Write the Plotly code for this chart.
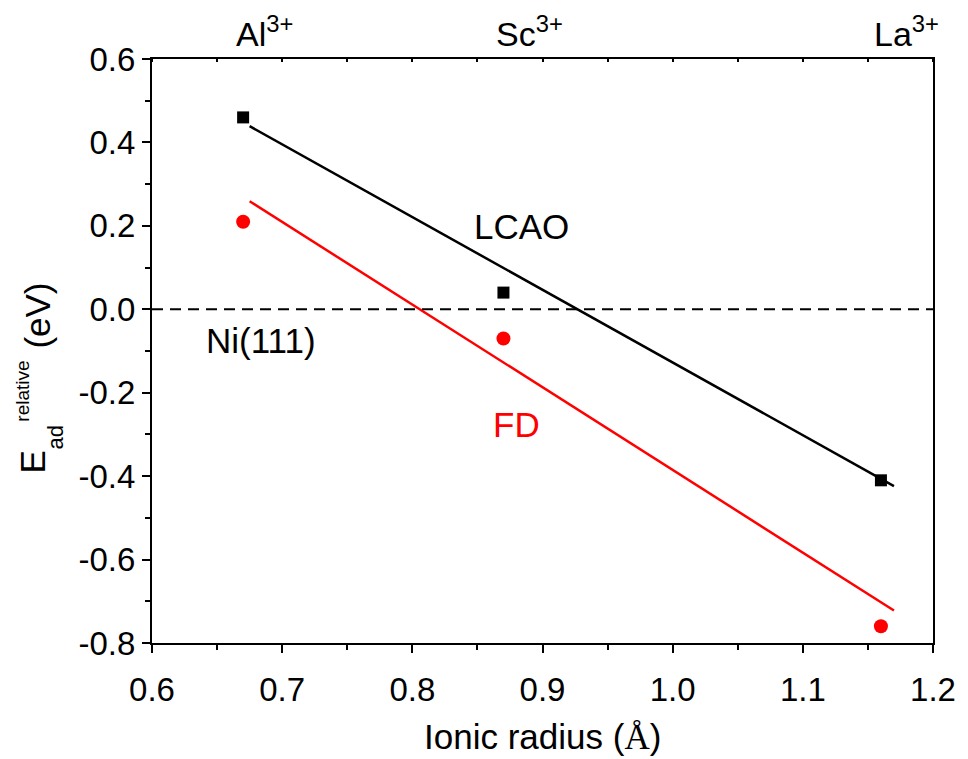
import plotly.graph_objects as go

# Data
ionic_radius = [0.67, 0.87, 1.16]
ion_labels = ["Al<sup>3+</sup>", "Sc<sup>3+</sup>", "La<sup>3+</sup>"]
lcao = [0.46, 0.04, -0.41]
fd = [0.21, -0.07, -0.76]
fit_x = [0.675, 1.17]
lcao_fit = [0.439, -0.424]
fd_fit = [0.259, -0.722]
ref_x = [0.6, 1.2]
ref_y = [0.0, 0.0]
xticks = [0.6, 0.7, 0.8, 0.9, 1.0, 1.1, 1.2]
yticks = [0.6, 0.4, 0.2, 0.0, -0.2, -0.4, -0.6, -0.8]

FONT = "Liberation Sans, Arial, sans-serif"
W, H = 968, 759
L, R, T, B = 152, 937, 59, 643

def px(x):
    return (x - L) / (R - L)

def py(y):
    return (B - y) / (B - T)

fig = go.Figure()
fig.add_trace(go.Scatter(x=ref_x, y=ref_y, mode="lines",
                         line=dict(color="black", width=2, dash="11px,7px"),
                         showlegend=False, hoverinfo="skip"))
fig.add_trace(go.Scatter(x=fit_x, y=lcao_fit, mode="lines",
                         line=dict(color="black", width=2.5), showlegend=False))
fig.add_trace(go.Scatter(x=fit_x, y=fd_fit, mode="lines",
                         line=dict(color="#ff0000", width=2.5), showlegend=False))
fig.add_trace(go.Scatter(x=ionic_radius, y=lcao, mode="markers",
                         marker=dict(symbol="square", size=12, color="black"),
                         showlegend=False))
fig.add_trace(go.Scatter(x=ionic_radius, y=fd, mode="markers",
                         marker=dict(symbol="circle", size=14, color="#ff0000"),
                         showlegend=False))
# dummy trace for top axis
fig.add_trace(go.Scatter(x=[0.6, 1.2], y=[None, None], xaxis="x2", showlegend=False,
                         hoverinfo="skip"))

fig.update_layout(
    width=W, height=H, autosize=False,
    margin=dict(l=L, r=W - R, t=T, b=H - B, pad=0),
    paper_bgcolor="white", plot_bgcolor="white",
    font=dict(family=FONT, size=33, color="black"),
    xaxis=dict(range=[0.6, 1.2], tickvals=xticks,
               ticktext=[f"{v:.1f}" for v in xticks],
               ticks="outside", ticklen=8, tickwidth=2, tickcolor="black",
               ticklabelstandoff=8,
               minor=dict(ticks="outside", dtick=0.05, tick0=0.6, ticklen=5,
                          tickwidth=2, tickcolor="black"),
               showline=True, linewidth=2, linecolor="black", mirror=True,
               showgrid=False, zeroline=False,
               tickfont=dict(size=33), fixedrange=True),
    xaxis2=dict(range=[0.6, 1.2], overlaying="x", side="top",
                tickvals=[], ticks="",
                minor=dict(ticks="inside", dtick=0.05, tick0=0.6, ticklen=3,
                           tickwidth=1.5, tickcolor="black"),
                showline=False, showgrid=False, zeroline=False, showticklabels=False),
    yaxis=dict(range=[-0.8, 0.6], tickvals=yticks,
               ticktext=[f"{v:.1f}".replace("\u2212", "-") for v in yticks],
               ticks="outside", ticklen=8, tickwidth=2, tickcolor="black",
               minor=dict(ticks="outside", dtick=0.1, tick0=0, ticklen=5,
                          tickwidth=2, tickcolor="black"),
               showline=True, linewidth=2, linecolor="black", mirror=True,
               showgrid=False, zeroline=False,
               tickfont=dict(size=33), fixedrange=True),
)

ann = []
# top ion labels
for xv, lab in zip(ionic_radius, ion_labels):
    ann.append(dict(x=xv, y=1, xref="x", yref="paper", text=lab, showarrow=False,
                    xanchor="left", yanchor="bottom", xshift=-9, yshift=4,
                    font=dict(size=34)))
# in-plot labels
ann.append(dict(x=0.884, y=0.199, xref="x", yref="y", text="LCAO", showarrow=False,
                font=dict(size=35, color="black")))
ann.append(dict(x=0.684, y=-0.074, xref="x", yref="y", text="Ni(111)", showarrow=False,
                font=dict(size=35, color="black")))
ann.append(dict(x=0.880, y=-0.275, xref="x", yref="y", text="FD", showarrow=False,
                font=dict(size=35, color="#ff0000")))
# x title
ann.append(dict(x=px(545), y=py(737), xref="paper", yref="paper",
                xanchor="center", yanchor="middle",
                text="Ionic radius (<span style='font-family:Liberation Serif'>Å</span>)",
                showarrow=False, font=dict(size=35)))
# y title pieces (rotated)
ann.append(dict(x=px(32), y=py(462), xref="paper", yref="paper", text="E",
                xanchor="center", yanchor="middle",
                textangle=-90, showarrow=False, font=dict(size=35)))
ann.append(dict(x=px(55), y=py(437), xref="paper", yref="paper", text="ad",
                xanchor="center", yanchor="middle",
                textangle=-90, showarrow=False, font=dict(size=22)))
ann.append(dict(x=px(21), y=py(391), xref="paper", yref="paper", text="relative",
                xanchor="center", yanchor="middle",
                textangle=-90, showarrow=False, font=dict(size=19)))
ann.append(dict(x=px(36), y=py(316), xref="paper", yref="paper", text="(eV)",
                xanchor="center", yanchor="middle",
                textangle=-90, showarrow=False, font=dict(size=35)))
fig.update_layout(annotations=ann)

fig.write_html("out.html")
